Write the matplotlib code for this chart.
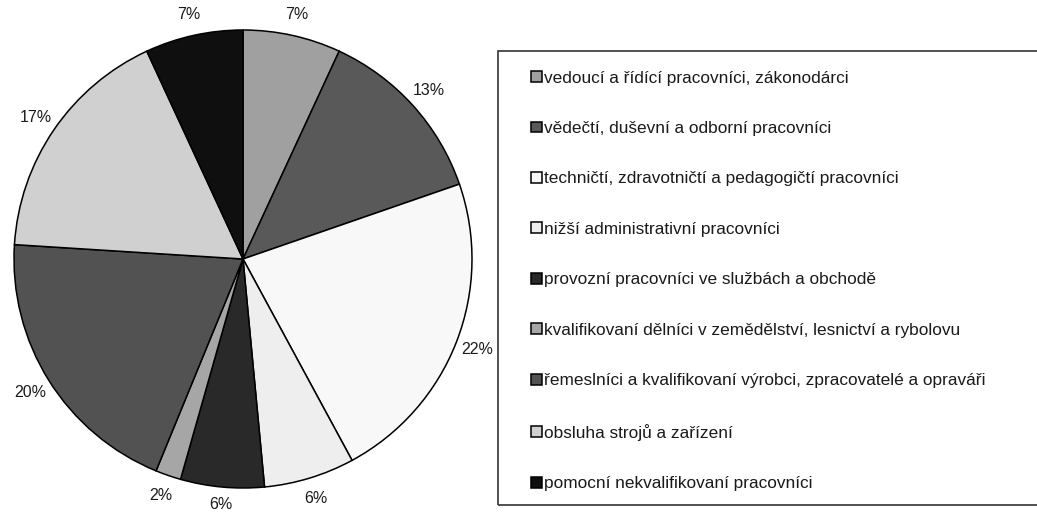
import matplotlib
matplotlib.use("Agg")
import matplotlib.pyplot as plt
from matplotlib.patches import Rectangle

plt.rcParams['font.family'] = ['Liberation Sans', 'DejaVu Sans']

categories = [
    "vedoucí a řídící pracovníci, zákonodárci",
    "vědečtí, duševní a odborní pracovníci",
    "techničtí, zdravotničtí a pedagogičtí pracovníci",
    "nižší administrativní pracovníci",
    "provozní pracovníci ve službách a obchodě",
    "kvalifikovaní dělníci v zemědělství, lesnictví a rybolovu",
    "řemeslníci a kvalifikovaní výrobci, zpracovatelé a opraváři",
    "obsluha strojů a zařízení",
    "pomocní nekvalifikovaní pracovníci",
]
shares = [6.9, 12.8, 22.4, 6.4, 5.9, 1.8, 19.8, 17.1, 6.9]
colors = ["#a0a0a0", "#595959", "#f8f8f8", "#eeeeee", "#292929",
          "#a6a6a6", "#525252", "#d0d0d0", "#0f0f0f"]

W, H = 1037, 513
fig = plt.figure(figsize=(W / 100, H / 100), dpi=100)

# pie centre (243, 259) px, radius 229 px
cx, cy, r = 243, 259, 229
ax = fig.add_axes([(cx - r) / W, (H - cy - r) / H, 2 * r / W, 2 * r / H])
pct = 1.095
wedges, texts, autotexts = ax.pie(
    shares, colors=colors, startangle=90, counterclock=False,
    autopct=lambda p: "%.0f%%" % p, pctdistance=pct,
    wedgeprops=dict(edgecolor="black", linewidth=1.1),
    textprops=dict(fontsize=11.5, color="#1a1a1a"),
)
# bottom label sits a little closer so it stays inside the figure
x, y = autotexts[4].get_position()
autotexts[4].set_position((x * 1.075 / pct, y * 1.075 / pct))

ax.set_xlim(-1, 1)
ax.set_ylim(-1, 1)
ax.set_aspect("equal")
ax.axis("off")

# legend frame, runs off the right edge
fig.patches.append(Rectangle((498 / W, 8 / H), 560 / W, 454.5 / H,
                             transform=fig.transFigure, fill=False,
                             edgecolor="#333333", linewidth=1.2))

leg = fig.legend(wedges, categories, loc="upper left",
                 bbox_to_anchor=(530.7 / W, 442.5 / H),
                 bbox_transform=fig.transFigure,
                 frameon=False, fontsize=12.4, borderpad=0, borderaxespad=0,
                 handlelength=0.64, handleheight=0.58, handletextpad=0.12,
                 labelspacing=2.06)
for t in leg.get_texts():
    t.set_color("#1a1a1a")

fig.savefig("out.png", dpi=100)
